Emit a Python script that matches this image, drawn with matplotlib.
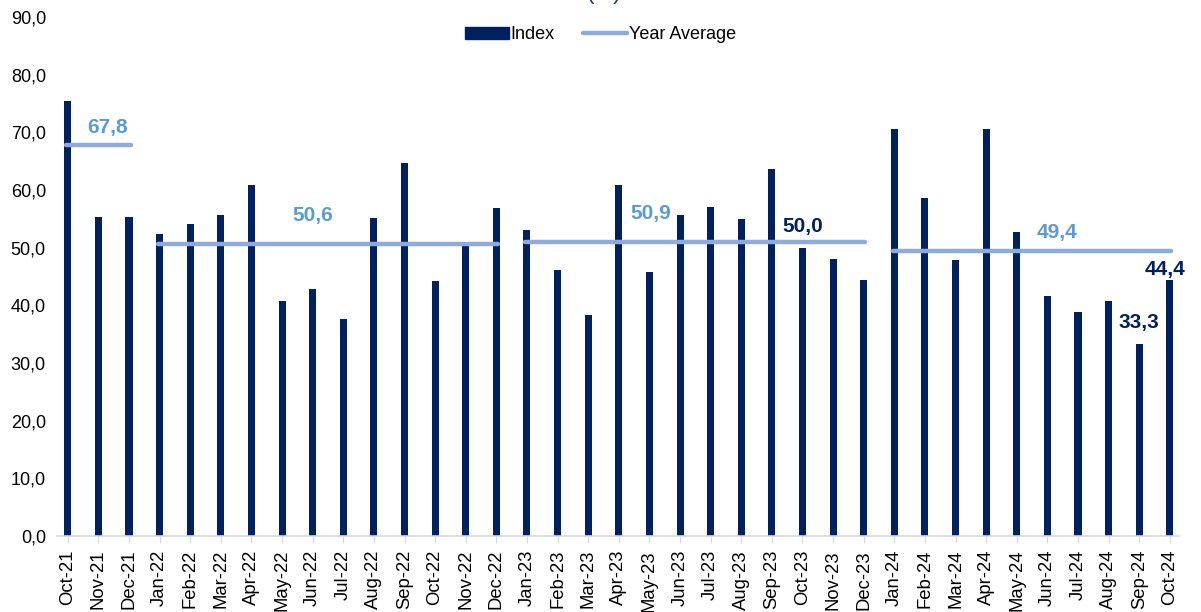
import matplotlib
matplotlib.use("Agg")
import matplotlib.pyplot as plt
from matplotlib.lines import Line2D
from matplotlib.patches import Patch

plt.rcParams['font.family'] = ['Liberation Sans', 'DejaVu Sans']

months = ["Oct-21", "Nov-21", "Dec-21",
          "Jan-22", "Feb-22", "Mar-22", "Apr-22", "May-22", "Jun-22", "Jul-22", "Aug-22",
          "Sep-22", "Oct-22", "Nov-22", "Dec-22",
          "Jan-23", "Feb-23", "Mar-23", "Apr-23", "May-23", "Jun-23", "Jul-23", "Aug-23",
          "Sep-23", "Oct-23", "Nov-23", "Dec-23",
          "Jan-24", "Feb-24", "Mar-24", "Apr-24", "May-24", "Jun-24", "Jul-24", "Aug-24",
          "Sep-24", "Oct-24"]
index_values = [75.5, 55.3, 55.3,
                52.3, 54.1, 55.7, 60.8, 40.8, 42.8, 37.6, 55.2, 64.7, 44.2, 50.8, 56.8,
                53.0, 46.2, 38.3, 60.8, 45.8, 55.7, 57.1, 54.9, 63.7, 50.0, 48.1, 44.4,
                70.6, 58.6, 47.8, 70.6, 52.8, 41.7, 38.9, 40.8, 33.3, 44.4]
year_suffix = ["21", "22", "23", "24"]
year_avg = [67.8, 50.6, 50.9, 49.4]
labeled_months = ["Oct-23", "Sep-24", "Oct-24"]

NAVY = "#002060"
LIGHT = "#8FAADC"
LABEL_BLUE = "#5B9BD5"

fig = plt.figure(figsize=(12.01, 6.12), dpi=100)
ax = fig.add_axes([0.0475, 0.1242, 0.9342, 0.848])

x = list(range(len(months)))
ax.bar(x, index_values, width=0.23, color=NAVY, zorder=2)

# year average lines
avg_label_pos = [(1.3, 70.8), (8.0, 55.5), (19.05, 56.0), (32.3, 52.6)]
for suf, avg, (lx, ly) in zip(year_suffix, year_avg, avg_label_pos):
    idx = [i for i, m in enumerate(months) if m.endswith(suf)]
    ax.plot([idx[0] - 0.05, idx[-1] + 0.05], [avg, avg], color=LIGHT, lw=3.2,
            solid_capstyle='round', zorder=3)
    ax.text(lx, ly, f"{avg:.1f}".replace('.', ','), color=LABEL_BLUE, fontsize=15,
            fontweight='bold', ha='center', va='center', zorder=4)

# value labels
val_label_pos = {"Oct-23": (24.0, 53.6), "Sep-24": (35.0, 37.0), "Oct-24": (35.85, 46.2)}
for m in labeled_months:
    i = months.index(m)
    lx, ly = val_label_pos[m]
    ax.text(lx, ly, f"{index_values[i]:.1f}".replace('.', ','), color=NAVY, fontsize=15,
            fontweight='bold', ha='center', va='center', zorder=4)

ax.set_xlim(-0.35, 36.3)
ax.set_ylim(0, 90)
ax.set_yticks(range(0, 91, 10))
ax.set_yticklabels([f"{v},0" for v in range(0, 91, 10)], fontsize=13)
ax.set_xticks(x)
ax.set_xticklabels(months, rotation=90, fontsize=13.3)
ax.tick_params(axis='y', length=0, pad=8)
ax.tick_params(axis='x', length=5, color="#D9D9D9", pad=5)
for s in ['top', 'right', 'left']:
    ax.spines[s].set_visible(False)
ax.spines['bottom'].set_color("#D9D9D9")
ax.spines['bottom'].set_linewidth(1.2)

handles = [Patch(facecolor=NAVY, edgecolor=NAVY),
           Line2D([0], [0], color=LIGHT, lw=3.2, solid_capstyle='round')]
fig.legend(handles, ["Index", "Year Average"], loc='center', bbox_to_anchor=(0.5, 0.943),
           ncol=2, frameon=False, fontsize=13, handlelength=2.4, handletextpad=0.1,
           columnspacing=1.6)

fig.text(0.503, 0.993, "(%)", ha='center', va='bottom', fontsize=16, color="#1F3864")

fig.savefig("out.png", dpi=100)
